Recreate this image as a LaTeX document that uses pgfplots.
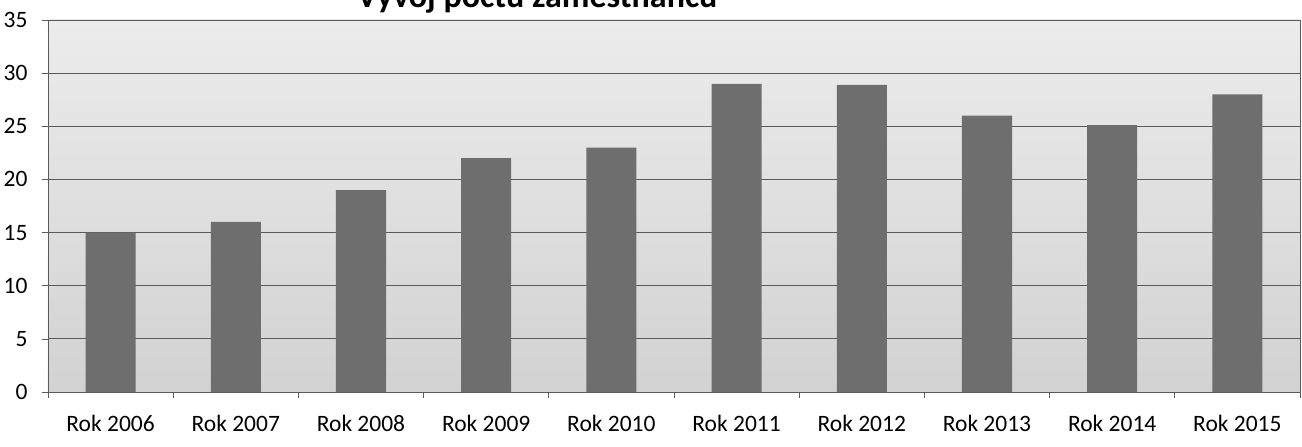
\documentclass[border=0pt]{standalone}
\usepackage{fontspec}
\setmainfont{Carlito}
\usepackage{pgfplots}
\pgfplotsset{compat=1.18}
\definecolor{barfill}{HTML}{6E6E6E}
\definecolor{bgtop}{HTML}{ECECEC}
\definecolor{bgbot}{HTML}{D2D2D2}
\definecolor{gridc}{HTML}{5A5A5A}
\begin{document}
\begin{tikzpicture}
\path[use as bounding box] (-48pt,-55pt) rectangle (1254pt,392pt);
\clip (-48pt,-55pt) rectangle (1254pt,392pt);
\begin{axis}[
  scale only axis,
  width=1252pt, height=372pt,
  xmin=-0.5, xmax=9.5,
  ymin=0, ymax=35,
  enlargelimits=false,
  ybar, bar width=0.4,
  xtick={0,...,9},
  xticklabels={Rok 2006,Rok 2007,Rok 2008,Rok 2009,Rok 2010,Rok 2011,Rok 2012,Rok 2013,Rok 2014,Rok 2015},
  minor xtick={-0.5,0.5,...,9.5},
  major x tick style={draw=none},
  ytick={0,5,...,35},
  tick align=outside,
  major tick length=6pt,
  minor tick length=6pt,
  tick style={gridc, line width=0.6pt},
  xtick pos=bottom, ytick pos=left,
  ymajorgrids,
  major grid style={draw=gridc, line width=0.8pt},
  axis line style={draw=gridc, line width=0.8pt},
  axis background/.style={shade, top color=bgtop, bottom color=bgbot},
  /pgf/number format/assume math mode=true,
  ticklabel style={font=\fontsize{23.5}{28}\selectfont, text=black},
  yticklabel style={xshift=-11pt},
  xticklabel style={yshift=-14pt},
]
\addplot[fill=barfill, draw=none] coordinates {
  (0,15) (1,16) (2,19) (3,22) (4,23) (5,29) (6,28.9) (7,26) (8,25.1) (9,28)
};
\end{axis}
\node[anchor=base west, inner sep=0pt, font=\fontsize{34}{40}\selectfont\bfseries] at (309pt,384pt) {Vývoj počtu zaměstnanců};
\end{tikzpicture}
\end{document}
